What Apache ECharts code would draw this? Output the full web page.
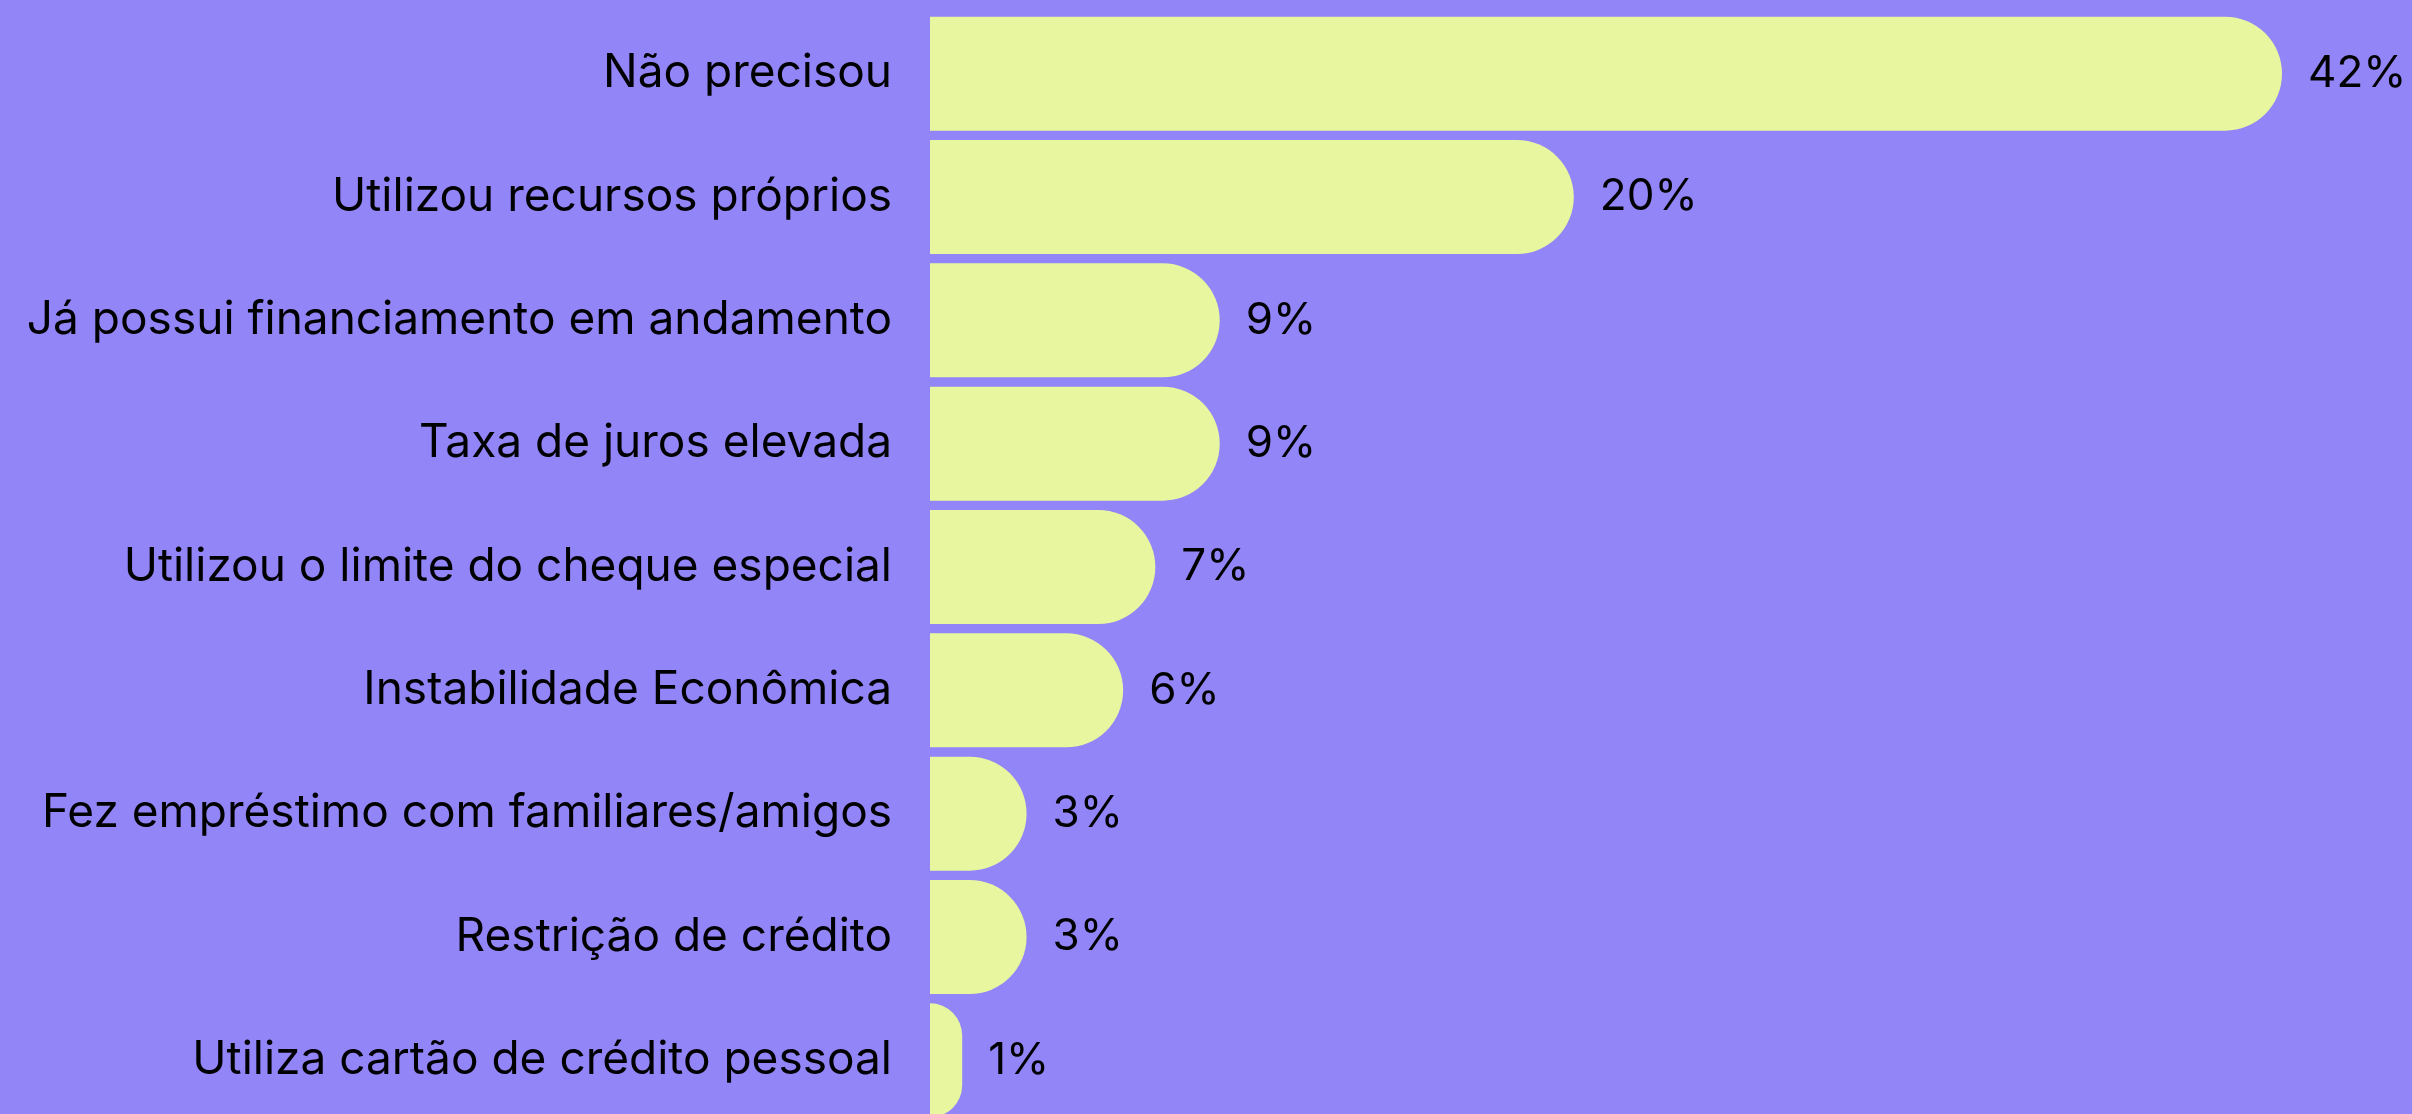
<!DOCTYPE html>
<html>
<head>
<meta charset="utf-8">
<script src="https://cdn.jsdelivr.net/npm/echarts@6/dist/echarts.min.js"></script>
<style>
  html, body { margin: 0; padding: 0; background: #9285f7; }
  #chart { width: 2412px; height: 1114px; }
</style>
</head>
<body>
<div id="chart"></div>
<script>
// categories (top to bottom) and their share in %
const categories = [
  'Não precisou',
  'Utilizou recursos próprios',
  'Já possui financiamento em andamento',
  'Taxa de juros elevada',
  'Utilizou o limite do cheque especial',
  'Instabilidade Econômica',
  'Fez empréstimo com familiares/amigos',
  'Restrição de crédito',
  'Utiliza cartão de crédito pessoal'
];
const values = [42, 20, 9, 9, 7, 6, 3, 3, 1];

const myChart = echarts.init(document.getElementById('chart'));

const option = {
  backgroundColor: '#9285f7',
  animation: false,
  grid: {
    left: 930,
    right: 130,
    top: 12,
    height: 1110,
    outerBoundsMode: 'none'
  },
  xAxis: {
    type: 'value',
    min: 0,
    max: 42,
    show: false
  },
  yAxis: {
    type: 'category',
    data: categories,
    inverse: true,
    axisLine: { show: false },
    axisTick: { show: false },
    splitLine: { show: false },
    axisLabel: {
      color: '#000',
      fontFamily: 'Inter',
      fontSize: 46,
      margin: 38
    }
  },
  series: [{
    type: 'bar',
    data: values,
    barWidth: 114,
    itemStyle: {
      color: '#e8f79f',
      borderRadius: [0, 57, 57, 0]
    },
    label: {
      show: true,
      position: 'right',
      distance: 26,
      color: '#000',
      fontFamily: 'Inter',
      fontSize: 44,
      formatter: '{c}%'
    }
  }]
};

myChart.setOption(option);
</script>
</body>
</html>
